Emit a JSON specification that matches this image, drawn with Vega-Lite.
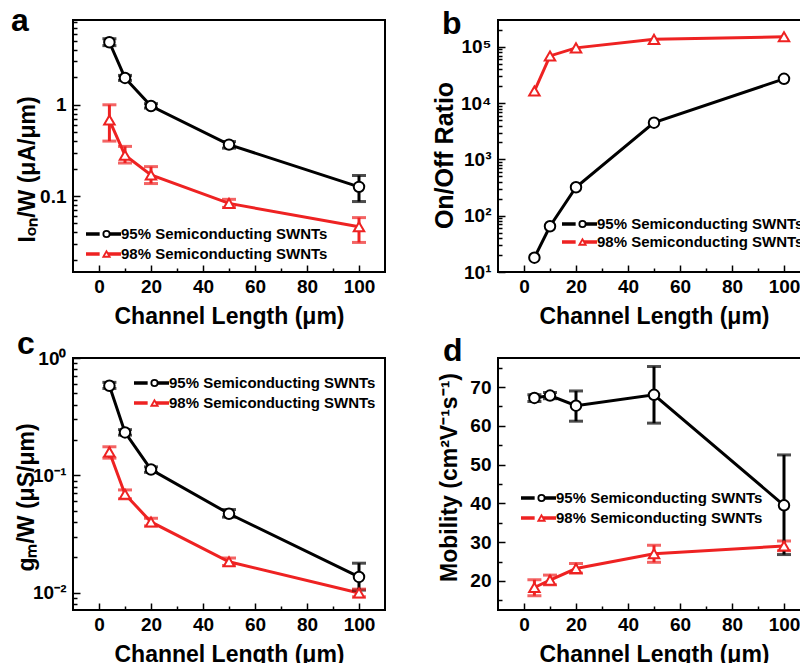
{
  "$schema": "https://vega.github.io/schema/vega-lite/v6.json",
  "background": "white",
  "padding": {"left": 10, "top": 4, "right": 0, "bottom": 0},
  "datasets": {
    "a": [
      {"L": 4, "v": 4.85, "lo": 4.45, "hi": 5.3, "s": "95% Semiconducting SWNTs"},
      {"L": 10, "v": 1.97, "lo": 1.85, "hi": 2.1, "s": "95% Semiconducting SWNTs"},
      {"L": 20, "v": 0.97, "lo": 0.92, "hi": 1.03, "s": "95% Semiconducting SWNTs"},
      {"L": 50, "v": 0.366, "lo": 0.335, "hi": 0.395, "s": "95% Semiconducting SWNTs"},
      {"L": 100, "v": 0.126, "lo": 0.087, "hi": 0.168, "s": "95% Semiconducting SWNTs"},
      {"L": 4, "v": 0.68, "lo": 0.4, "hi": 1.0, "s": "98% Semiconducting SWNTs"},
      {"L": 10, "v": 0.28, "lo": 0.23, "hi": 0.35, "s": "98% Semiconducting SWNTs"},
      {"L": 20, "v": 0.17, "lo": 0.137, "hi": 0.21, "s": "98% Semiconducting SWNTs"},
      {"L": 50, "v": 0.083, "lo": 0.075, "hi": 0.092, "s": "98% Semiconducting SWNTs"},
      {"L": 100, "v": 0.046, "lo": 0.031, "hi": 0.058, "s": "98% Semiconducting SWNTs"}
    ],
    "b": [
      {"L": 4, "v": 18, "s": "95% Semiconducting SWNTs"},
      {"L": 10, "v": 65, "s": "95% Semiconducting SWNTs"},
      {"L": 20, "v": 320, "s": "95% Semiconducting SWNTs"},
      {"L": 50, "v": 4500, "s": "95% Semiconducting SWNTs"},
      {"L": 100, "v": 27000, "s": "95% Semiconducting SWNTs"},
      {"L": 4, "v": 16400, "s": "98% Semiconducting SWNTs"},
      {"L": 10, "v": 69000, "s": "98% Semiconducting SWNTs"},
      {"L": 20, "v": 96000, "s": "98% Semiconducting SWNTs"},
      {"L": 50, "v": 136000, "s": "98% Semiconducting SWNTs"},
      {"L": 100, "v": 151000, "s": "98% Semiconducting SWNTs"}
    ],
    "c": [
      {"L": 4, "v": 0.58, "lo": 0.55, "hi": 0.62, "s": "95% Semiconducting SWNTs"},
      {"L": 10, "v": 0.232, "lo": 0.22, "hi": 0.245, "s": "95% Semiconducting SWNTs"},
      {"L": 20, "v": 0.112, "lo": 0.106, "hi": 0.118, "s": "95% Semiconducting SWNTs"},
      {"L": 50, "v": 0.047, "lo": 0.044, "hi": 0.051, "s": "95% Semiconducting SWNTs"},
      {"L": 100, "v": 0.0136, "lo": 0.0105, "hi": 0.0178, "s": "95% Semiconducting SWNTs"},
      {"L": 4, "v": 0.158, "lo": 0.14, "hi": 0.175, "s": "98% Semiconducting SWNTs"},
      {"L": 10, "v": 0.069, "lo": 0.063, "hi": 0.075, "s": "98% Semiconducting SWNTs"},
      {"L": 20, "v": 0.04, "lo": 0.037, "hi": 0.043, "s": "98% Semiconducting SWNTs"},
      {"L": 50, "v": 0.0183, "lo": 0.017, "hi": 0.0197, "s": "98% Semiconducting SWNTs"},
      {"L": 100, "v": 0.0099, "lo": 0.0092, "hi": 0.0107, "s": "98% Semiconducting SWNTs"}
    ],
    "d": [
      {"L": 4, "v": 67.2, "lo": 66.3, "hi": 68, "s": "95% Semiconducting SWNTs"},
      {"L": 10, "v": 67.8, "lo": 67, "hi": 68.6, "s": "95% Semiconducting SWNTs"},
      {"L": 20, "v": 65.2, "lo": 61.2, "hi": 69, "s": "95% Semiconducting SWNTs"},
      {"L": 50, "v": 68, "lo": 60.7, "hi": 75.3, "s": "95% Semiconducting SWNTs"},
      {"L": 100, "v": 39.5, "lo": 26.8, "hi": 52.5, "s": "95% Semiconducting SWNTs"},
      {"L": 4, "v": 18.3, "lo": 16.2, "hi": 20.3, "s": "98% Semiconducting SWNTs"},
      {"L": 10, "v": 20.2, "lo": 19, "hi": 21.5, "s": "98% Semiconducting SWNTs"},
      {"L": 20, "v": 23.2, "lo": 22, "hi": 24.5, "s": "98% Semiconducting SWNTs"},
      {"L": 50, "v": 27, "lo": 24.8, "hi": 29.2, "s": "98% Semiconducting SWNTs"},
      {"L": 100, "v": 29, "lo": 27.8, "hi": 30.3, "s": "98% Semiconducting SWNTs"}
    ]
  },
  "config": {
    "font": "Liberation Sans",
    "view": {"stroke": "black", "strokeWidth": 2},
    "axis": {
      "grid": false, "domain": false, "tickColor": "black", "tickWidth": 1.5,
      "labelFont": "Liberation Sans", "labelFontSize": 19, "labelFontWeight": "bold", "labelColor": "black",
      "titleFont": "Liberation Sans", "titleFontSize": 23, "titleFontWeight": "bold", "titleColor": "black"
    },
    "legend": {
      "orient": "none", "title": null, "labelFont": "Liberation Sans", "labelFontSize": 15, "labelFontWeight": "bold",
      "labelColor": "black", "labelLimit": 400, "clipHeight": 20, "symbolOpacity": 1,
      "rowPadding": 0, "padding": 0, "labelOffset": -2, "symbolOffset": 0
    },
    "title": {"anchor": "start", "frame": "group", "fontSize": 32, "fontWeight": "bold", "color": "black", "offset": 0, "baseline": "alphabetic", "font": "Liberation Sans"}
  },
  "columns": 2,
  "spacing": {"row": 86, "column": 113},
  "bounds": "flush",
  "resolve": {"scale": {"color": "independent", "stroke": "independent", "shape": "independent"}, "legend": {"color": "independent", "stroke": "independent", "shape": "independent"}},
  "concat": [
    {
      "width": 312, "height": 252,
      "title": {"text": "a", "dx": -62, "dy": 22},
      "data": {"name": "a"},
      "resolve": {"axis": {"x": "independent", "y": "independent"}},
      "layer": [
        {
          "mark": {"type": "line", "strokeWidth": 3},
          "encoding": {
            "x": {"field": "L", "type": "quantitative", "scale": {"domain": [-10, 110], "nice": false, "zero": false},
                  "axis": {"orient": "bottom", "values": [10, 30, 50, 70, 90], "labels": false, "tickSize": -4, "title": null}},
            "y": {"field": "v", "type": "quantitative", "scale": {"type": "log", "domain": [0.0147, 8.5], "nice": false},
                  "axis": {"orient": "left", "values": [0.02,0.03,0.04,0.05,0.06,0.07,0.08,0.09,0.2,0.3,0.4,0.5,0.6,0.7,0.8,0.9,2,3,4,5,6,7,8], "labels": false, "tickSize": -4, "title": null}},
            "color": {"field": "s", "type": "nominal", "scale": {"domain": ["95% Semiconducting SWNTs", "98% Semiconducting SWNTs"], "range": ["black", "#ee2222"]},
                      "legend": {"legendX": 11, "legendY": 204, "symbolType": "M-1,0H-0.22M0.22,0H1", "symbolSize": 1225, "symbolStrokeWidth": 3.5, "symbolOpacity": 1}}
          }
        },
        {
          "mark": {"type": "errorbar", "thickness": 3, "ticks": {"size": 14, "thickness": 3}},
          "encoding": {
            "x": {"field": "L", "type": "quantitative", "axis": null},
            "y": {"field": "lo", "type": "quantitative", "axis": null},
            "y2": {"field": "hi"},
            "color": {"field": "s", "type": "nominal"}
          }
        },
        {
          "mark": {"type": "point", "filled": false, "fill": "white", "strokeWidth": 2, "size": 110, "opacity": 1},
          "encoding": {
            "x": {"field": "L", "type": "quantitative",
                  "axis": {"orient": "bottom", "values": [0, 20, 40, 60, 80, 100], "tickSize": -7, "labelPadding": 12, "title": "Channel Length (μm)", "titleY": 51, "titleBaseline": "alphabetic"}},
            "y": {"field": "v", "type": "quantitative",
                  "axis": {"orient": "left", "values": [0.1, 1], "labelExpr": "datum.value == 1 ? '1' : '0.1'", "tickSize": -7, "labelPadding": 14, "title": "Iₒₙ/W (μA/μm)", "titleX": -46, "titleY": 149, "titleBaseline": "middle", "titleAngle": -90}},
            "stroke": {"field": "s", "type": "nominal", "scale": {"range": ["black", "#ee2222"]},
                       "legend": {"legendX": 26, "legendY": 204, "symbolSize": 40, "symbolStrokeWidth": 1.8, "labelExpr": "''"}},
            "shape": {"field": "s", "type": "nominal", "scale": {"range": ["circle", "triangle-up"]}}
          }
        }
      ]
    },
    {
      "width": 312, "height": 252,
      "title": {"text": "b", "dx": -56, "dy": 25},
      "data": {"name": "b"},
      "resolve": {"axis": {"x": "independent", "y": "independent"}},
      "layer": [
        {
          "mark": {"type": "line", "strokeWidth": 3},
          "encoding": {
            "x": {"field": "L", "type": "quantitative", "scale": {"domain": [-10, 110], "nice": false, "zero": false},
                  "axis": {"orient": "bottom", "values": [10, 30, 50, 70, 90], "labels": false, "tickSize": -4, "title": null}},
            "y": {"field": "v", "type": "quantitative", "scale": {"type": "log", "domain": [10, 300000], "nice": false},
                  "axis": {"orient": "left", "values": [20,30,40,50,60,70,80,90,200,300,400,500,600,700,800,900,2000,3000,4000,5000,6000,7000,8000,9000,20000,30000,40000,50000,60000,70000,80000,90000,200000], "labels": false, "tickSize": -4, "title": null}},
            "color": {"field": "s", "type": "nominal", "scale": {"domain": ["95% Semiconducting SWNTs", "98% Semiconducting SWNTs"], "range": ["black", "#ee2222"]},
                      "legend": {"legendX": 62, "legendY": 195, "clipHeight": 18, "symbolType": "M-1,0H-0.22M0.22,0H1", "symbolSize": 1225, "symbolStrokeWidth": 3.5, "symbolOpacity": 1}}
          }
        },
        {
          "mark": {"type": "point", "filled": false, "fill": "white", "strokeWidth": 2, "size": 110, "opacity": 1},
          "encoding": {
            "x": {"field": "L", "type": "quantitative",
                  "axis": {"orient": "bottom", "values": [0, 20, 40, 60, 80, 100], "tickSize": -7, "labelPadding": 12, "title": "Channel Length (μm)", "titleY": 51, "titleBaseline": "alphabetic"}},
            "y": {"field": "v", "type": "quantitative",
                  "axis": {"orient": "left", "values": [10, 100, 1000, 10000, 100000], "labelExpr": "'10' + (datum.value == 10 ? '¹' : datum.value == 100 ? '²' : datum.value == 1000 ? '³' : datum.value == 10000 ? '⁴' : '⁵')", "tickSize": -7, "labelPadding": 14, "title": "On/Off Ratio", "titleFontSize": 25, "titleX": -54, "titleY": 135, "titleBaseline": "middle", "titleAngle": -90}},
            "stroke": {"field": "s", "type": "nominal", "scale": {"range": ["black", "#ee2222"]},
                       "legend": {"legendX": 77, "legendY": 195, "clipHeight": 18, "symbolSize": 40, "symbolStrokeWidth": 1.8, "labelExpr": "''"}},
            "shape": {"field": "s", "type": "nominal", "scale": {"range": ["circle", "triangle-up"]}}
          }
        }
      ]
    },
    {
      "width": 312, "height": 252,
      "title": {"text": "c", "dx": -56, "dy": 16},
      "data": {"name": "c"},
      "resolve": {"axis": {"x": "independent", "y": "independent"}},
      "layer": [
        {
          "mark": {"type": "line", "strokeWidth": 3},
          "encoding": {
            "x": {"field": "L", "type": "quantitative", "scale": {"domain": [-10, 110], "nice": false, "zero": false},
                  "axis": {"orient": "bottom", "values": [10, 30, 50, 70, 90], "labels": false, "tickSize": -4, "title": null}},
            "y": {"field": "v", "type": "quantitative", "scale": {"type": "log", "domain": [0.0071, 1], "nice": false},
                  "axis": {"orient": "left", "values": [0.008,0.009,0.02,0.03,0.04,0.05,0.06,0.07,0.08,0.09,0.2,0.3,0.4,0.5,0.6,0.7,0.8,0.9], "labels": false, "tickSize": -4, "title": null}},
            "color": {"field": "s", "type": "nominal", "scale": {"domain": ["95% Semiconducting SWNTs", "98% Semiconducting SWNTs"], "range": ["black", "#ee2222"]},
                      "legend": {"legendX": 59, "legendY": 15, "symbolType": "M-1,0H-0.22M0.22,0H1", "symbolSize": 1225, "symbolStrokeWidth": 3.5, "symbolOpacity": 1}}
          }
        },
        {
          "mark": {"type": "errorbar", "thickness": 3, "ticks": {"size": 14, "thickness": 3}},
          "encoding": {
            "x": {"field": "L", "type": "quantitative", "axis": null},
            "y": {"field": "lo", "type": "quantitative", "axis": null},
            "y2": {"field": "hi"},
            "color": {"field": "s", "type": "nominal"}
          }
        },
        {
          "mark": {"type": "point", "filled": false, "fill": "white", "strokeWidth": 2, "size": 110, "opacity": 1},
          "encoding": {
            "x": {"field": "L", "type": "quantitative",
                  "axis": {"orient": "bottom", "values": [0, 20, 40, 60, 80, 100], "tickSize": -7, "labelPadding": 12, "title": "Channel Length (μm)", "titleY": 51, "titleBaseline": "alphabetic"}},
            "y": {"field": "v", "type": "quantitative",
                  "axis": {"orient": "left", "values": [0.01, 0.1, 1], "labelExpr": "datum.value == 1 ? '10⁰' : datum.value == 0.1 ? '10⁻¹' : '10⁻²'", "tickSize": -7, "labelPadding": 14, "title": "gₘ/W (μS/μm)", "titleX": -47, "titleY": 139, "titleBaseline": "middle", "titleAngle": -90}},
            "stroke": {"field": "s", "type": "nominal", "scale": {"range": ["black", "#ee2222"]},
                       "legend": {"legendX": 74, "legendY": 15, "symbolSize": 40, "symbolStrokeWidth": 1.8, "labelExpr": "''"}},
            "shape": {"field": "s", "type": "nominal", "scale": {"range": ["circle", "triangle-up"]}}
          }
        }
      ]
    },
    {
      "width": 312, "height": 252,
      "title": {"text": "d", "dx": -55, "dy": 14},
      "data": {"name": "d"},
      "resolve": {"axis": {"x": "independent", "y": "independent"}},
      "layer": [
        {
          "mark": {"type": "line", "strokeWidth": 3},
          "encoding": {
            "x": {"field": "L", "type": "quantitative", "scale": {"domain": [-10, 110], "nice": false, "zero": false},
                  "axis": {"orient": "bottom", "values": [10, 30, 50, 70, 90], "labels": false, "tickSize": -4, "title": null}},
            "y": {"field": "v", "type": "quantitative", "scale": {"domain": [12.5, 77.5], "nice": false, "zero": false},
                  "axis": {"orient": "left", "values": [15, 25, 35, 45, 55, 65, 75], "labels": false, "tickSize": -4, "title": null}},
            "color": {"field": "s", "type": "nominal", "scale": {"domain": ["95% Semiconducting SWNTs", "98% Semiconducting SWNTs"], "range": ["black", "#ee2222"]},
                      "legend": {"legendX": 21, "legendY": 130, "symbolType": "M-1,0H-0.22M0.22,0H1", "symbolSize": 1225, "symbolStrokeWidth": 3.5, "symbolOpacity": 1}}
          }
        },
        {
          "mark": {"type": "errorbar", "thickness": 3, "ticks": {"size": 14, "thickness": 3}},
          "encoding": {
            "x": {"field": "L", "type": "quantitative", "axis": null},
            "y": {"field": "lo", "type": "quantitative", "axis": null},
            "y2": {"field": "hi"},
            "color": {"field": "s", "type": "nominal"}
          }
        },
        {
          "mark": {"type": "point", "filled": false, "fill": "white", "strokeWidth": 2, "size": 110, "opacity": 1},
          "encoding": {
            "x": {"field": "L", "type": "quantitative",
                  "axis": {"orient": "bottom", "values": [0, 20, 40, 60, 80, 100], "tickSize": -7, "labelPadding": 12, "title": "Channel Length (μm)", "titleY": 51, "titleBaseline": "alphabetic"}},
            "y": {"field": "v", "type": "quantitative",
                  "axis": {"orient": "left", "values": [20, 30, 40, 50, 60, 70], "tickSize": -7, "labelPadding": 14, "title": "Mobility (cm²V⁻¹s⁻¹)", "titleX": -49, "titleY": 119, "titleBaseline": "middle", "titleAngle": -90}},
            "stroke": {"field": "s", "type": "nominal", "scale": {"range": ["black", "#ee2222"]},
                       "legend": {"legendX": 36, "legendY": 130, "symbolSize": 40, "symbolStrokeWidth": 1.8, "labelExpr": "''"}},
            "shape": {"field": "s", "type": "nominal", "scale": {"range": ["circle", "triangle-up"]}}
          }
        }
      ]
    }
  ]
}
